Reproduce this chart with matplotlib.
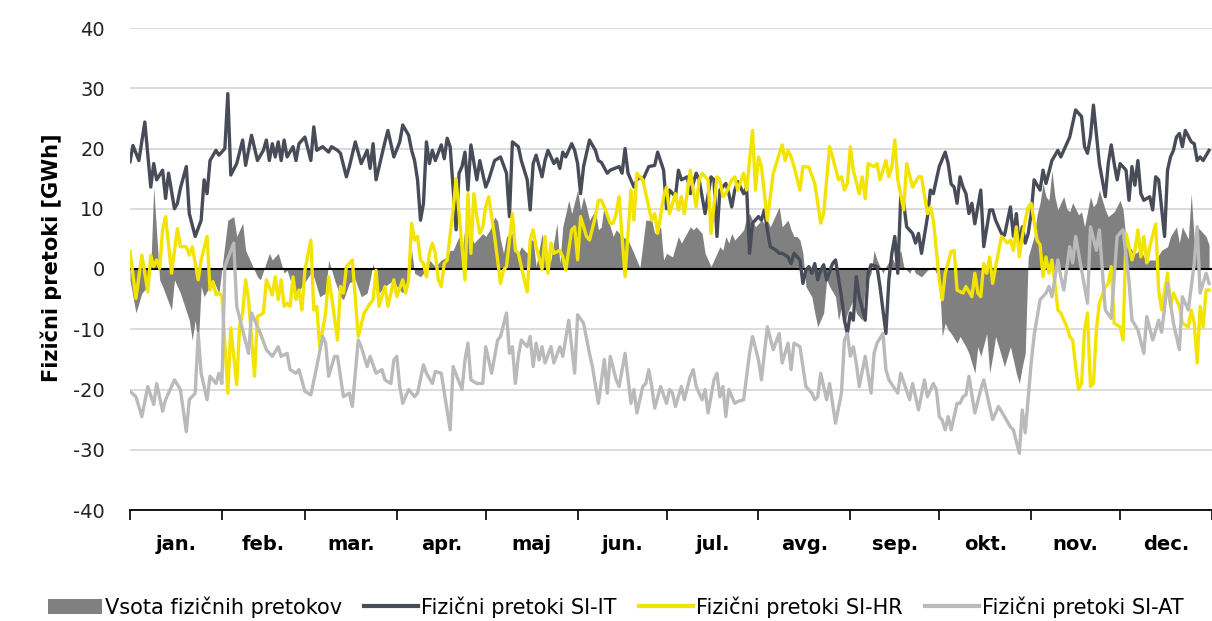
import numpy as np
import matplotlib
matplotlib.use("Agg")
import matplotlib.pyplot as plt
from matplotlib.patches import Patch
from matplotlib.lines import Line2D

# Daily physical flows [GWh] (day of year, value)
it_days = [0, 1, 3, 5, 7, 8, 9, 11, 12, 13, 15, 16, 17, 19, 20, 22, 24, 25, 26, 27, 29, 30, 32, 33, 34, 36, 38, 39, 41, 43, 45,
           46, 47, 48, 49, 50, 51, 52, 53, 55, 56, 57, 59, 61, 62, 63, 65, 67, 68, 70, 71, 73, 74, 76, 78, 80, 81, 82, 83, 86, 87, 89, 91,
           92, 94, 95, 96, 97, 98, 99, 100, 101, 102, 103, 105, 106, 107, 108, 110, 111, 112, 113, 114, 115, 117, 118, 120, 121, 123, 125, 127, 128, 129, 131, 132, 134, 135,
           136, 137, 139, 140, 141, 143, 144, 145, 146, 147, 149, 150, 151, 152, 153, 155, 157, 158, 159, 161, 162, 165, 166, 167, 168, 170, 171, 172, 173, 175, 177, 178, 180, 181,
           182, 184, 185, 186, 188, 189, 191, 192, 194, 196, 197, 198, 199, 201, 202, 203, 204, 205, 207, 208, 209, 210, 212, 213, 214, 215, 216, 218, 219, 220, 222, 223, 224, 226, 227,
           228, 229, 230, 231, 232, 233, 234, 235, 237, 238, 240, 241, 242, 243, 244, 245, 246, 248, 249, 250, 252, 253, 255, 256, 257, 258, 259, 260, 261, 262, 264, 265, 266, 267, 269, 270, 271, 272,
           273, 275, 276, 277, 278, 279, 280, 281, 282, 283, 284, 285, 287, 288, 290, 291, 292, 294, 295, 297, 298, 299, 300, 301, 302, 303, 304, 305, 307, 308, 309, 311, 313, 314, 315, 317,
           319, 321, 322, 323, 324, 325, 327, 329, 330, 331, 332, 333, 334, 336, 337, 338, 339, 340, 341, 342, 344, 345, 346, 347, 349, 350, 351, 352, 353, 354, 355, 356, 358, 359, 360, 361, 362, 364]
it_vals = [17.8, 20.5, 18, 24.4, 13.6, 17.5, 14.8, 16.4, 11.7, 15.9, 10, 10.9, 13.4, 17, 9.2, 5.4, 8.1, 14.8, 12.5, 18, 19.7, 18.9, 20, 29.1, 15.6, 17.5, 21.4, 17.2, 22.2, 18, 19.7,
           21.4, 18, 20.8, 18.6, 21.1, 18, 21.4, 18.6, 20.3, 18, 20.8, 21.9, 18, 23.6, 19.7, 20.3, 19.4, 20.3, 19.7, 19.2, 15.3, 17, 21.1, 17.5, 19.7, 16.7, 20.8, 14.8, 21.1, 23, 18.6, 21.1,
           23.9, 22.2, 19.7, 18, 14.8, 8.1, 10.9, 21.1, 17.5, 19.7, 18, 20.6, 18.3, 21.7, 20.3, 6.5, 15.9, 17, 19.4, 13.1, 20.6, 14.8, 18, 13.6, 14.8, 18, 18.6, 15.9, 8.7, 21.1, 20.3, 18, 14.8, 9.8,
           17.5, 18.9, 15.3, 18, 19.7, 17.5, 18.3, 16.7, 19.4, 18.6, 20.8, 19.7, 17.5, 12.5, 17, 21.4, 19.7, 18, 17.7, 15.9, 16.4, 17, 15.9, 20, 15.9, 13.6, 14.8, 15.3, 14.8, 17, 17.2, 19.4, 16.4, 10,
           13.1, 12, 16.4, 14.8, 15.3, 12.5, 15.9, 14.8, 9.2, 15.3, 14.8, 5.4, 13.1, 14.2, 12.5, 10.3, 13.1, 14.5, 12.5, 13.6, 2.6, 7.6, 8.7, 8.1, 9.8, 6.5, 3.7, 3.1, 2.6, 2.6, 2, 0.9, 2.6, 1.5, -2.4,
           -0.2, 0.4, -0.7, 0.9, -1.8, -0.2, 0.7, -1.8, 0.9, 1.5, -4.6, -8.5, -10.7, -7.3, -8.5, -1.3, -4.6, -8.5, -0.7, 0.7, 0.4, -2.9, -10.7, -1.8, 2.6, 5.4, -0.7, 12, 10.9, 7, 5.9, 4.3, 5.9, 2.6, 8.6, 13.1, 12.5, 14.8,
           17, 19.4, 17.5, 14.1, 13.6, 10.9, 15.3, 13.6, 12.5, 9.2, 10.9, 7.5, 13.1, 3.7, 9.8, 9.8, 8.1, 5.9, 5.6, 10.3, 5.4, 9.2, 3.7, 7, 4.3, 5.9, 9.2, 14.8, 13.1, 16.4, 14.2, 18, 19.7, 18.6, 19.7, 21.9,
           26.4, 25.3, 20.3, 19.2, 22, 27.2, 17.5, 12, 17.5, 20.6, 17.5, 14.8, 17.5, 16.4, 11.4, 17, 13.9, 18, 12.5, 11.4, 12, 9.8, 15.3, 14.8, 5.4, 16.4, 18.6, 19.7, 21.9, 22.5, 20.3, 23, 21.1, 20.8, 18, 18.6, 18, 19.7]

hr_days = [0, 2, 4, 6, 7, 8, 9, 10, 11, 12, 14, 16, 17, 19, 20, 21, 23, 24, 26, 27, 28, 29, 30, 31, 33, 34, 36, 37, 38, 39, 40, 42, 43, 45,
           46, 48, 49, 50, 51, 52, 53, 54, 55, 56, 57, 58, 59, 61, 62, 63, 64, 66, 67, 68, 70, 71, 72, 73, 75, 77, 79, 81, 82, 83, 84, 86, 87, 89,
           90, 92, 93, 94, 95, 96, 97, 98, 99, 100, 101, 102, 103, 104, 105, 106, 107, 109, 110, 111, 113, 114, 115, 116, 117, 118, 119, 120, 121, 123, 125, 126, 127, 129, 130, 131, 133, 134, 135,
           136, 137, 139, 140, 141, 142, 143, 145, 146, 147, 149, 150, 151, 152, 154, 155, 157, 158, 159, 160, 162, 163, 164, 165, 167, 169, 170, 171, 173, 174, 176, 177, 178, 180, 181,
           182, 184, 185, 186, 187, 189, 190, 191, 192, 193, 195, 196, 198, 199, 200, 201, 203, 204, 205, 207, 208, 210, 211, 212, 213, 215, 217, 218, 220, 221, 222, 223, 224, 226, 227,
           229, 231, 233, 234, 236, 237, 239, 240, 241, 242, 243, 244, 246, 247, 248, 249, 251, 252, 253, 255, 256, 257, 258, 259, 261, 262, 264, 266, 267, 269, 270, 271, 273,
           274, 275, 277, 278, 279, 281, 282, 284, 285, 286, 287, 288, 289, 290, 291, 292, 294, 296, 297, 298, 299, 300, 301, 302, 303, 304, 306, 307, 308, 309, 310, 311, 312, 313, 314,
           316, 317, 318, 319, 320, 321, 322, 323, 324, 325, 326, 327, 329, 330, 331, 332, 334, 335, 336, 338, 339, 340, 341, 342, 343, 344, 346, 347, 348, 350, 351, 352, 354, 355,
           357, 358, 359, 360, 361, 362, 363, 364]
hr_vals = [2.9, -4.9, 2.3, -3.8, 2.3, 0.4, 1.5, 0.1, 6.5, 8.7, -0.7, 6.7, 3.7, 3.7, 2.3, 3.7, -1.8, 1.5, 5.4, -3.5, -2.1, -4.3, -4, -4.5, -20.6, -9.8, -19.2, -9.3, -7.3, -1.8, -5.1, -17.8, -7.9, -7.3,
           -1.8, -4.3, -1.3, -5.1, -1.8, -6.2, -5.7, -6.2, -1.3, -5.1, -3.5, -6.8, -0.2, 4.8, -6.8, -6.2, -12.9, -7.3, -1.3, -4.6, -11.8, -2.9, -4, 0.4, 1.5, -11.2, -7.3, -5.7, -5.1, -0.2, -6.2, -2.9, -6.2, -1.8,
           -4.6, -1.8, -4, -1.8, 7.6, 4.8, 5.4, 1.5, 0.9, -1.3, 2.6, 4.3, 2.6, -1.8, -2.9, 0.9, 1.5, 9.8, 15, 9.2, -1.8, 12.5, 2.6, 12.5, 8.7, 5.9, 7, 10.3, 12, 5.4, -2.4, -0.2, 0.4, 9.2, 3.1, 2.6, -1.8, -3.8, 4.8,
           6.5, 3.7, 0, 5.4, -0.7, 4.3, 2.6, 3.1, 2, -0.2, 6.5, 7, 1.5, 8.7, 5.4, 4.8, 8.7, 11.4, 11.4, 10.3, 7.6, 7.6, 9.2, 12, -1.3, 13.1, 8.1, 15.9, 14.8, 12.5, 8.1, 9.2, 5.9, 12, 13.6,
           9.2, 12.5, 9.8, 12, 9.2, 16.4, 13.1, 10.3, 14.8, 15.9, 14.8, 5.9, 15.3, 14.8, 12, 12.5, 14.8, 15.3, 13.1, 15.9, 13.1, 23, 13.1, 18.6, 17, 8.1, 15.9, 17.5, 20.6, 18, 19.7, 18.6, 17, 13.1, 17,
           16.9, 14.2, 7.6, 9.2, 20.3, 18.6, 14.8, 15.3, 13.1, 14.2, 20.3, 16.4, 12.5, 15.3, 11.7, 17.5, 17, 17.5, 14.8, 18, 15.3, 17, 21.4, 14.8, 9.8, 17.5, 13.6, 15.3, 15.3, 9.2, 10.3, 8.1, -1.8,
           -5.1, -0.7, 2.9, 3.1, -3.5, -4, -2.9, -4.6, -0.7, -4, -4.6, 0.9, -0.7, 2, -2.4, 0.4, 5.4, 4.3, 4.8, 3.1, 7, 2, 5.4, 8.1, 10.3, 10.9, 4.8, 4, -1.3, 2, -0.7, 1.5, -2.4, -6.8, -7.3,
           -9.6, -11.2, -11.8, -16.2, -20, -19, -10.1, -7.3, -19.5, -19, -10.1, -5.7, -3, -2.4, 0.4, -9, -9.6, -11.8, 5.9, 1.5, 3.1, 6.5, 2, 5.4, 1, 3.7, 7.5, -3.5, -6.8, -0.7, -6.2, -4, -6.2, -9,
           -9.6, -6.8, -9, -15.6, -6.2, -9.6, -3.5, -3.5]

at_days = [0, 2, 4, 5, 6, 8, 9, 11, 12, 15, 17, 19, 20, 22, 23, 24, 26, 27, 29, 30, 31, 32, 35, 36, 40, 41, 44,
           46, 48, 50, 51, 53, 54, 56, 57, 59, 60, 61, 63, 65, 66, 67, 69, 70, 72, 74, 75, 77, 78, 80, 81, 83, 85, 86, 88, 89,
           90, 91, 92, 94, 96, 97, 99, 100, 102, 103, 105, 108, 109, 112, 113, 114, 115, 117, 119, 120, 122, 124, 125, 127, 128, 129, 130, 131, 132, 134,
           135, 136, 137, 138, 139, 140, 142, 143, 145, 146, 148, 150, 151, 153, 155, 156, 158, 160, 161, 162, 164, 165, 167, 169, 170, 171, 173, 174, 175, 176, 177, 179, 181,
           182, 183, 184, 186, 187, 189, 190, 191, 193, 194, 195, 197, 198, 199, 200, 201, 202, 204, 205, 207, 209, 210, 212, 213, 214, 215, 217, 219, 220, 222, 223, 224, 226,
           227, 228, 230, 231, 232, 233, 235, 236, 238, 240, 241, 242, 243, 244, 245, 246, 248, 250, 251, 252, 254, 255, 256, 259, 260, 263, 264, 266, 268, 269, 271, 272,
           273, 274, 275, 276, 277, 279, 280, 281, 282, 283, 285, 287, 288, 291, 293, 295, 297, 298, 300, 301, 302,
           304, 305, 307, 309, 310, 311, 313, 314, 315, 317, 318, 319, 321, 323, 324, 326, 327, 329, 331, 333, 335, 337, 338, 340, 342, 343, 345, 347, 348,
           350, 352, 354, 355, 357, 359, 360, 361, 363, 364]
at_vals = [-20.3, -21.2, -24.5, -22, -19.5, -22.5, -19, -23.6, -21.7, -18.4, -20, -27, -21.7, -20.6, -10.7, -17.3, -21.7, -17.8, -19, -17.3, -19, 0.4, 4.3, -6.2, -14, -7.3, -10.7,
           -13.4, -14.5, -12.9, -14.5, -14, -16.7, -17.3, -16.7, -20.3, -20.6, -20.9, -16.2, -11.2, -12.3, -17.8, -14.5, -14.5, -21.2, -20.6, -22.8, -11.8, -12.9, -16.2, -14.5, -17.3, -16.7, -18.4, -19, -15.1,
           -14.5, -19.5, -22.3, -20, -21.2, -20.6, -15.9, -17.3, -19, -17, -17.3, -26.7, -16.2, -20, -15.1, -12.3, -18.4, -19, -19, -12.9, -17.3, -11.8, -11.2, -7.3, -14, -12.9, -19, -14.5, -11.8, -12.9,
           -11.2, -16.2, -12.3, -15.1, -12.9, -15.6, -12.9, -15.6, -12.9, -14.5, -8.5, -17.3, -7.6, -9, -14, -16.2, -22.3, -15, -20.6, -14.5, -18.4, -19.5, -14, -22.3, -20, -23.9, -19.5, -19, -16.7, -19.5, -23.1, -19.5, -22.3,
           -20, -20.6, -22.8, -19.5, -21.7, -17.8, -16.7, -19.5, -21.7, -20, -23.9, -18.4, -17.3, -21.2, -19.5, -24.5, -20, -22.3, -22, -21.7, -14, -11.2, -15.1, -18.4, -14, -9.6, -13.4, -10.7, -15.6, -12.3, -16.7, -12.3, -12.9,
           -16.2, -19.5, -20.6, -21.7, -21.2, -17.3, -21.7, -19, -25.6, -20.6, -11.8, -10.7, -14.5, -12.9, -15.6, -19.5, -14.5, -20.6, -14, -12.3, -10.7, -16.7, -18.4, -20.6, -17.3, -21.7, -19, -23.4, -18.4, -21.2, -19, -20,
           -24.5, -25.1, -26.7, -24.5, -26.7, -22.3, -22.3, -21.2, -20.9, -17.8, -23.9, -20, -18.4, -25, -22.8, -24.5, -26.2, -26.7, -30.6, -23.4, -27.2,
           -15.6, -11, -5.1, -4, -2.9, -4.6, 1.5, -1.3, -3.5, 3.7, 1, 5.4, -0.2, -5.7, 7, 3.1, 6.5, -6.8, -8.2, 5.4, 6.5, -2, -8.5, -10.1, -14, -7.9, -11.8, -8.5, -10.5,
           -2.4, -9, -13.4, -4.6, -6.8, 0.9, 7, -4, -0.7, -2.4]

sum_days = [0, 2, 4, 6, 7, 8, 10, 11, 14, 15, 17, 20, 21, 22, 23, 24, 25, 28, 30, 31, 33, 35, 36, 38, 39, 41, 43, 44,
            47, 48, 50, 52, 53, 54, 56, 58, 61, 62, 64, 66, 67, 69, 71, 72, 74, 76, 78, 80, 81, 82, 84, 86, 89,
            90, 92, 94, 95, 96, 98, 99, 101, 103, 105, 107, 108, 109, 111, 112, 113, 115, 116, 117, 119, 120, 122, 123, 124, 125, 126, 127, 129, 130, 131, 132, 134, 135,
            136, 137, 139, 140, 141, 142, 144, 145, 146, 148, 149, 151, 152, 153, 154, 155, 157, 158, 159, 160, 162, 163, 164, 166, 168, 170, 172, 174, 176, 177, 179, 180, 181,
            183, 185, 186, 189, 190, 191, 193, 194, 196, 197, 199, 200, 201, 202, 203, 204, 206, 207, 208, 209, 211, 213, 214, 215, 216, 219, 220, 222, 223, 224, 225, 226, 227,
            228, 230, 231, 232, 234, 235, 236, 238, 239, 240, 241, 242, 244, 245, 247, 248, 249, 250, 251, 252, 254, 255, 257, 258, 260, 261, 263, 264, 265, 267, 269, 271, 272,
            273, 274, 275, 276, 277, 279, 280, 282, 283, 285, 286, 287, 289, 290, 291, 292, 294, 295, 296, 297, 299, 300, 301, 302,
            303, 305, 306, 307, 308, 309, 310, 311, 312, 313, 314, 315, 316, 317, 318, 319, 320, 321, 322, 324, 325, 326, 327, 329, 330, 332, 334, 335, 336, 338, 339, 341, 343, 344,
            346, 348, 350, 351, 353, 354, 355, 357, 358, 359, 360, 361, 363, 364]
sum_vals = [-1.8, -7.3, -4, -2.9, 0, 13.6, -1.8, -2.9, -6.8, -1.8, -4, -8.5, -11.8, -8.5, -12.9, -2.9, -4.6, -1.8, -4, 0, 8.1, 8.7, 5.4, 7.6, 3.1, 0.9, -1.3, -1.8,
            2.6, 1.5, 2.6, -0.7, -0.2, -1.8, -4, -2.9, -0.7, -1.3, -4.6, -4, 1.5, -1.8, -4.6, -5.1, -2.3, -1.8, -4.6, -4, -1.8, 0.9, -4, -2.9, -1.8,
            -2.9, -4, -1.3, 3.1, -0.7, -1.3, -0.7, 1.5, 0.4, 1.5, 2, 3.1, 3.1, 5.4, 2.6, 7, 5.4, 4.3, 4.8, 5.9, 5.4, 7, 8.6, 8, 4.8, 2.6, 5.4, 5.9, 3.7, 2.6, 3.7, 2.6, 4.8,
            4.8, 0.4, 5.9, 1.5, 0.4, 1.5, 7.6, 0.9, 7, 11.4, 9.2, 13.1, 9.8, 12, 10.3, 8.1, 9.8, 6.5, 7, 10.9, 7, 5.4, 6.5, 5.4, 4.8, 2.6, 0.2, 8.1, 8.1, 5.9, 7, 1.5, 2.6,
            2, 5.4, 4.3, 7, 6.5, 7, 5.9, 2.6, 0.4, 1.5, 3.7, 3.1, 5.4, 4.3, 5.9, 4.8, 5.9, 6.5, 8.6, 9.2, 7, 8.1, 7.6, 8.1, 7, 10.3, 7, 8.1, 6.5, 5.4, 5.4, 4.8, 2.6,
            -2.9, -4.6, -7.3, -9.6, -7.3, -1.8, -2.9, -4.6, -8.5, -6.2, -9.6, -7.3, -5.1, -7.3, -8.5, -2.9, -1.8, -0.7, 3.1, 1.5, -0.7, 0.4, 2, 0.9, 3.1, 0.4, -0.7, 0.4, -0.7, -1.3, -0.2, 0.4, -0.7,
            -1, -11.2, -9, -10.1, -10.7, -12.3, -11.2, -12.9, -14, -17.3, -12.9, -14.5, -10.7, -17.3, -14.5, -11.2, -14.5, -16.2, -14.5, -12.9, -17.3, -19, -16.2, -14,
            2, 5.4, 9, 11, 14.2, 12, 11.4, 16.4, 12, 9.8, 11, 12, 10, 9.5, 11, 10, 9, 9.5, 7, 12, 10.3, 11, 13.1, 9.8, 8.7, 9.5, 11.4, 9.8, 4.8, 3.1, 2.6, 3.1, 1, 1.5,
            1.5, 3.1, 3.7, 5.4, 7, 4.3, 7, 5, 12.5, 4.8, 7, 6.5, 5.4, 4]

months = ["jan.", "feb.", "mar.", "apr.", "maj", "jun.", "jul.", "avg.", "sep.", "okt.", "nov.", "dec."]
month_starts = [0, 31, 59, 90, 120, 151, 181, 212, 243, 273, 304, 334, 365]

legend_labels = ["Vsota fizičnih pretokov", "Fizični pretoki SI-IT", "Fizični pretoki SI-HR", "Fizični pretoki SI-AT"]

c_sum = "#808080"
c_it = "#484b58"
c_hr = "#f2e400"
c_at = "#bababa"

plt.rcParams["font.family"] = ["DejaVu Sans"]
plt.rcParams["axes.unicode_minus"] = False

fig = plt.figure(figsize=(12.12, 6.21), dpi=100)
ax = fig.add_axes([130 / 1212, 1 - 510 / 621, 1082 / 1212, 482 / 621])

ax.fill_between(sum_days, sum_vals, 0, color=c_sum, lw=0, zorder=2)
ax.axhline(0, color="black", lw=1.5, zorder=3)
ax.plot(it_days, it_vals, color=c_it, lw=2.4, zorder=4)
ax.plot(hr_days, hr_vals, color=c_hr, lw=2.4, zorder=5)
ax.plot(at_days, at_vals, color=c_at, lw=2.4, zorder=6)

ax.set_xlim(0, 365)
ax.set_ylim(-40, 40)
ax.set_yticks(np.arange(-40, 41, 10))
ax.yaxis.grid(True, color="#d9d9d9", lw=1.3, zorder=0)
ax.set_axisbelow(True)
ax.tick_params(axis="y", length=0, pad=18, labelsize=14, labelcolor="#222222")

for s in ["left", "right", "top"]:
    ax.spines[s].set_visible(False)
ax.spines["bottom"].set_color("black")
ax.spines["bottom"].set_linewidth(1.3)
ax.spines["bottom"].set_zorder(7)

ax.set_xticks(month_starts)
ax.set_xticklabels([])
ax.tick_params(axis="x", which="major", direction="out", length=7, width=1.2, color="black")
mids = [(a + b) / 2 for a, b in zip(month_starts[:-1], month_starts[1:])]
ax.set_xticks(mids, minor=True)
ax.set_xticklabels(months, minor=True, fontsize=14, fontweight="bold")
ax.tick_params(axis="x", which="minor", length=0, pad=18)

fig.text(51 / 1212, 1 - 258 / 621, "Fizični pretoki [GWh]", rotation=90, fontsize=15,
         fontweight="bold", ha="center", va="center")

handles = [Patch(facecolor=c_sum, edgecolor="none"),
           Line2D([], [], color=c_it, lw=3),
           Line2D([], [], color=c_hr, lw=3),
           Line2D([], [], color=c_at, lw=3)]
fig.legend(handles, legend_labels, loc="center", bbox_to_anchor=(0.508, 1 - 607 / 621), ncol=4,
           frameon=False, fontsize=15, handlelength=2.6, handletextpad=0.15, columnspacing=1.05,
           borderpad=0, borderaxespad=0)

fig.savefig("out.png", dpi=100)
